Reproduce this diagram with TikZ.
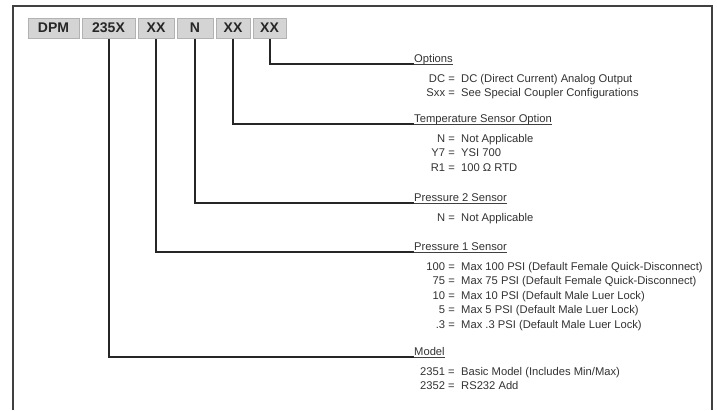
\documentclass[tikz,border=0pt]{standalone}
\usepackage{fontspec}
\setmainfont{Liberation Sans}
\begin{document}
\begin{tikzpicture}[x=1pt,y=-1pt,
  codebox/.style={draw=black!30, fill=black!17, line width=1pt, minimum height=20pt,
    inner sep=0pt, font=\fontsize{14}{16}\selectfont\bfseries, text=black!85},
  head/.style={anchor=base west, inner sep=0pt, font=\fontsize{11.2}{13}\selectfont, text=black!80},
  keyt/.style={anchor=base east, inner sep=0pt, font=\fontsize{11.2}{13}\selectfont, text=black!80},
  valt/.style={anchor=base west, inner sep=0pt, font=\fontsize{11.2}{13}\selectfont, text=black!80},
  conn/.style={draw=black!85, line width=2pt},
  uline/.style={draw=black!75, line width=0.7pt},
  framel/.style={draw=black!75, line width=1.5pt}]
\useasboundingbox (0,0) rectangle (717,410);
\fill[white] (0,0) rectangle (717,410);
\draw[framel] (13,410) -- (13,6) -- (712,6) -- (712,410);

% code boxes
\node[codebox, minimum width=51pt] (b1) at (53.5,28) {DPM};
\node[codebox, minimum width=53pt] (b2) at (108.5,28) {235X};
\node[codebox, minimum width=36pt] (b3) at (156,28) {XX};
\node[codebox, minimum width=36pt] (b4) at (195,28) {N};
\node[codebox, minimum width=34pt] (b5) at (233,28) {XX};
\node[codebox, minimum width=33pt] (b6) at (269.5,28) {XX};

% headings
\node[head] (h1) at (414,62.5) {Options};
\node[head] (h2) at (414,122.5) {Temperature Sensor Option};
\node[head] (h3) at (414,201.5) {Pressure 2 Sensor};
\node[head] (h4) at (414,250.5) {Pressure 1 Sensor};
\node[head] (h5) at (414,355.5) {Model};
\foreach \h in {h1,h2,h3,h4,h5}
  \draw[uline] ([yshift=-1.8pt]\h.base west) -- ([yshift=-1.8pt]\h.base east);

% connectors
\draw[conn] (b6.south) |- ([yshift=-1.5pt]h1.base west);
\draw[conn] (b5.south) |- ([yshift=-1.5pt]h2.base west);
\draw[conn] (b4.south) |- ([yshift=-1.5pt]h3.base west);
\draw[conn] (b3.south) |- ([yshift=-1.5pt]h4.base west);
\draw[conn] (b2.south) |- ([yshift=-1.5pt]h5.base west);

% Options
\node[keyt] (k11) at (455,82) {DC =};
\node[valt] (v11) at (461,82) {DC (Direct Current) Analog Output};
\node[keyt] (k12) at (455,96.5) {Sxx =};
\node[valt] (v12) at (461,96.5) {See Special Coupler Configurations};
% Temperature
\node[keyt] (k21) at (455,142) {N =};
\node[valt] (v21) at (461,142) {Not Applicable};
\node[keyt] (k22) at (455,156.5) {Y7 =};
\node[valt] (v22) at (461,156.5) {YSI 700};
\node[keyt] (k23) at (455,171) {R1 =};
\node[valt] (v23) at (461,171) {100 Ω RTD};
% Pressure 2
\node[keyt] (k31) at (455,221) {N =};
\node[valt] (v31) at (461,221) {Not Applicable};
% Pressure 1
\node[keyt] (k41) at (455,270) {100 =};
\node[valt] (v41) at (461,270) {Max 100 PSI (Default Female Quick-Disconnect)};
\node[keyt] (k42) at (455,284.5) {75 =};
\node[valt] (v42) at (461,284.5) {Max 75 PSI (Default Female Quick-Disconnect)};
\node[keyt] (k43) at (455,299) {10 =};
\node[valt] (v43) at (461,299) {Max 10 PSI (Default Male Luer Lock)};
\node[keyt] (k44) at (455,313.5) {5 =};
\node[valt] (v44) at (461,313.5) {Max 5 PSI (Default Male Luer Lock)};
\node[keyt] (k45) at (455,328) {.3 =};
\node[valt] (v45) at (461,328) {Max .3 PSI (Default Male Luer Lock)};
% Model
\node[keyt] (k51) at (455,375) {2351 =};
\node[valt] (v51) at (461,375) {Basic Model (Includes Min/Max)};
\node[keyt] (k52) at (455,389.5) {2352 =};
\node[valt] (v52) at (461,389.5) {RS232 Add};
\end{tikzpicture}
\end{document}
